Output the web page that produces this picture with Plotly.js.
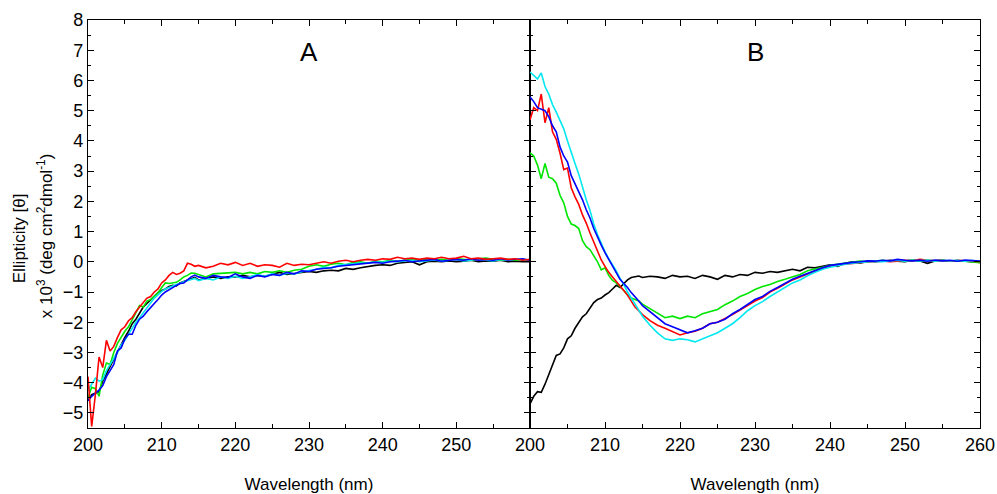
<!DOCTYPE html>
<html>
<head>
<meta charset="utf-8">
<script src="https://cdn.plot.ly/plotly-3.0.1.min.js"></script>
<style>html,body{margin:0;padding:0;background:#fff;}#chart{width:997px;height:494px;}</style>
</head>
<body>
<div id="chart"></div>
<script>
// Wavelength grid (nm): 0.5 nm steps 200-215, then 1 nm steps 216-260
var wavelength = [200,200.5,201,201.5,202,202.5,203,203.5,204,204.5,205,205.5,206,206.5,207,207.5,208,208.5,209,209.5,210,210.5,211,211.5,212,212.5,213,213.5,214,214.5,215,
216,217,218,219,220,221,222,223,224,225,226,227,228,229,230,231,232,233,234,235,236,237,238,239,240,241,242,243,244,245,246,247,248,249,250,251,252,253,254,255,256,257,258,259,260];

// Panel A
var A_black = [-4.6,-4.4,-4.35,-4.3,-3.95,-3.7,-3.45,-3.2,-2.95,-2.75,-2.5,-2.3,-2.05,-1.9,-1.7,-1.5,-1.38,-1.25,-1.12,-1.02,-0.95,-0.9,-0.82,-0.78,-0.8,-0.7,-0.65,-0.6,-0.55,-0.52,-0.6,
-0.55,-0.5,-0.55,-0.5,-0.5,-0.45,-0.5,-0.45,-0.48,-0.42,-0.35,-0.42,-0.38,-0.35,-0.32,-0.35,-0.3,-0.28,-0.3,-0.22,-0.25,-0.2,-0.15,-0.12,-0.1,-0.12,-0.05,-0.02,0.0,-0.1,0.0,0.02,0.0,0.03,0.0,0.02,0.05,0.0,0.03,0.02,0.05,0.0,0.02,0.0,0.0];
var A_red = [-3.8,-5.45,-4.4,-3.15,-3.5,-2.6,-2.95,-2.8,-2.5,-2.25,-2.15,-1.95,-1.85,-1.65,-1.5,-1.35,-1.2,-1.15,-1.0,-0.9,-0.7,-0.6,-0.45,-0.35,-0.42,-0.38,-0.3,-0.05,-0.08,-0.15,-0.12,
-0.2,-0.15,-0.05,-0.1,-0.02,-0.12,-0.05,-0.15,-0.1,-0.12,-0.18,-0.05,-0.12,-0.08,-0.1,-0.05,0.0,-0.05,0.02,0.05,0.0,0.05,0.08,0.05,0.1,0.08,0.15,0.1,0.12,0.08,0.12,0.1,0.15,0.1,0.12,0.18,0.1,0.12,0.08,0.1,0.12,0.08,0.1,0.05,0.08];
var A_blue = [-4.6,-4.45,-4.35,-4.25,-4.1,-3.8,-3.6,-3.4,-2.95,-2.85,-2.55,-2.4,-2.4,-2.1,-1.9,-1.8,-1.65,-1.5,-1.38,-1.25,-1.1,-1.0,-0.92,-0.85,-0.78,-0.72,-0.7,-0.6,-0.5,-0.44,-0.5,
-0.55,-0.45,-0.5,-0.52,-0.4,-0.5,-0.55,-0.45,-0.5,-0.42,-0.45,-0.35,-0.4,-0.3,-0.32,-0.25,-0.22,-0.2,-0.15,-0.12,-0.1,-0.08,-0.05,-0.02,-0.05,0.0,0.02,0.05,0.0,0.03,0.05,0.08,0.02,0.05,0.08,0.05,0.1,0.05,0.08,0.05,0.1,0.06,0.08,0.1,0.05];
var A_green = [-4.5,-4.15,-4.2,-4.45,-3.75,-3.35,-3.4,-3.0,-2.7,-2.5,-2.3,-2.15,-1.9,-1.7,-1.45,-1.5,-1.3,-1.25,-1.15,-1.03,-0.85,-0.7,-0.72,-0.7,-0.68,-0.6,-0.5,-0.45,-0.37,-0.38,-0.42,
-0.5,-0.4,-0.38,-0.35,-0.35,-0.4,-0.35,-0.4,-0.32,-0.35,-0.3,-0.35,-0.28,-0.25,-0.15,-0.1,-0.15,-0.08,-0.05,-0.1,-0.02,0.0,-0.05,0.02,0.0,0.05,0.02,0.05,0.08,0.05,0.1,0.05,0.08,0.05,0.1,0.08,0.05,0.1,0.12,0.08,0.05,0.08,0.05,0.08,0.05];
var A_cyan = [-4.25,-4.05,-3.85,-3.95,-3.9,-3.6,-3.4,-3.2,-3.0,-2.75,-2.6,-2.4,-2.2,-2.0,-1.85,-1.68,-1.52,-1.35,-1.2,-1.1,-0.98,-0.9,-0.86,-0.8,-0.75,-0.72,-0.66,-0.62,-0.58,-0.55,-0.62,
-0.55,-0.6,-0.5,-0.55,-0.48,-0.55,-0.5,-0.42,-0.48,-0.4,-0.45,-0.38,-0.4,-0.33,-0.3,-0.25,-0.18,-0.2,-0.12,-0.1,-0.08,-0.04,-0.05,0.0,-0.02,0.02,0.0,0.03,0.05,0.0,0.03,0.06,0.02,0.05,0.08,0.03,0.05,0.1,0.05,0.03,0.08,0.05,0.1,0.06,0.03];

// Panel B
var B_black = [-4.7,-4.45,-4.3,-4.32,-4.05,-3.75,-3.45,-3.1,-3.05,-2.85,-2.55,-2.45,-2.2,-2.0,-1.82,-1.72,-1.55,-1.35,-1.25,-1.2,-1.1,-1.02,-0.9,-0.78,-0.85,-0.72,-0.6,-0.52,-0.5,-0.47,-0.52,
-0.48,-0.5,-0.55,-0.45,-0.5,-0.48,-0.55,-0.45,-0.5,-0.58,-0.45,-0.5,-0.42,-0.45,-0.35,-0.38,-0.32,-0.35,-0.3,-0.25,-0.3,-0.18,-0.2,-0.15,-0.1,-0.15,-0.05,0.0,-0.05,0.02,0.0,0.02,0.05,0.02,0.0,0.05,0.03,-0.05,0.03,0.05,0.02,0.04,0.02,0.0,-0.02];
var B_red = [4.7,5.1,5.0,5.55,4.6,5.1,4.3,4.05,3.6,3.05,3.1,2.45,2.15,1.9,1.55,1.28,0.95,0.65,0.35,0.06,-0.15,-0.35,-0.5,-0.65,-0.8,-0.95,-1.1,-1.3,-1.5,-1.62,-1.75,
-1.95,-2.1,-2.2,-2.3,-2.42,-2.35,-2.3,-2.2,-2.05,-2.0,-1.88,-1.75,-1.6,-1.45,-1.3,-1.18,-1.0,-0.88,-0.75,-0.6,-0.5,-0.4,-0.32,-0.22,-0.15,-0.1,-0.08,-0.05,-0.02,0.0,0.02,0.03,0.0,0.02,0.05,0.03,0.08,0.05,0.03,0.05,0.02,0.05,0.03,0.02,0.0];
var B_blue = [5.45,5.3,5.1,5.05,5.0,4.8,4.5,4.3,3.8,3.5,3.3,2.85,2.6,2.35,2.05,1.72,1.45,1.1,0.8,0.55,0.3,0.08,-0.15,-0.4,-0.58,-0.72,-0.85,-1.02,-1.15,-1.3,-1.45,
-1.65,-1.85,-2.05,-2.15,-2.25,-2.35,-2.28,-2.2,-2.05,-2.0,-1.9,-1.72,-1.58,-1.42,-1.25,-1.15,-0.98,-0.85,-0.72,-0.58,-0.48,-0.38,-0.28,-0.2,-0.12,-0.08,-0.05,-0.02,0.0,0.03,0.02,0.05,0.03,0.08,0.05,0.03,0.05,0.02,0.06,0.03,0.05,0.02,0.06,0.03,0.02];
var B_green = [3.6,3.5,3.2,2.75,3.25,2.8,2.75,2.6,2.2,1.95,1.5,1.25,1.2,1.1,0.7,0.5,0.4,0.2,0.0,-0.27,-0.2,-0.45,-0.62,-0.7,-0.82,-0.95,-1.1,-1.2,-1.25,-1.3,-1.4,
-1.55,-1.7,-1.85,-1.8,-1.88,-1.8,-1.85,-1.72,-1.65,-1.58,-1.42,-1.3,-1.15,-1.05,-0.92,-0.82,-0.75,-0.65,-0.58,-0.5,-0.42,-0.3,-0.25,-0.18,-0.12,-0.08,-0.05,0.0,0.02,0.0,0.03,0.05,0.02,0.05,0.03,0.06,0.02,0.05,0.03,0.05,0.02,0.04,0.02,0.0,-0.03];
var B_cyan = [6.28,6.15,6.05,6.25,5.8,5.55,5.2,4.95,4.7,4.4,4.0,3.6,3.25,2.9,2.45,2.05,1.7,1.25,0.9,0.6,0.33,0.1,-0.1,-0.3,-0.55,-0.75,-1.0,-1.2,-1.42,-1.62,-1.8,
-2.1,-2.35,-2.55,-2.6,-2.55,-2.58,-2.65,-2.55,-2.45,-2.35,-2.2,-2.05,-1.85,-1.62,-1.45,-1.32,-1.15,-1.0,-0.85,-0.7,-0.6,-0.46,-0.35,-0.25,-0.18,-0.12,-0.08,-0.05,-0.02,0.0,0.02,0.0,0.03,0.05,0.02,0.05,0.03,0.06,0.02,0.05,0.03,0.05,0.02,0.04,0.01];

var xTickValsA = [200,210,220,230,240,250];
var xTickValsB = [200,210,220,230,240,250,260];
var xMinorVals = [205,215,225,235,245,255];

var colors = {black:'#000000', red:'#ff0000', blue:'#0000ff', green:'#00e600', cyan:'#00e8f0'};

function tr(y, c, xa, ya){
  return {x: wavelength, y: y, mode:'lines', line:{color:c, width:1.6}, xaxis:xa, yaxis:ya, hoverinfo:'skip'};
}
var data = [
  tr(A_black, colors.black,'x','y'), tr(A_green, colors.green,'x','y'), tr(A_cyan, colors.cyan,'x','y'),
  tr(A_blue, colors.blue,'x','y'), tr(A_red, colors.red,'x','y'),
  tr(B_black, colors.black,'x2','y2'), tr(B_green, colors.green,'x2','y2'), tr(B_red, colors.red,'x2','y2'),
  tr(B_cyan, colors.cyan,'x2','y2'), tr(B_blue, colors.blue,'x2','y2')
];

var F = '"Liberation Sans", Arial, sans-serif';
var split = 442/892;
function xax(dom, vals, anchor){
  return {domain: dom, range:[200,260], anchor: anchor, tickmode:'array', tickvals: vals,
    ticks:'inside', ticklen:6, tickwidth:1, tickcolor:'#000', showline:true, linecolor:'#000', linewidth:1.2,
    mirror:'ticks', showgrid:false, zeroline:false, tickfont:{family:F, size:18, color:'#000'},
    minor:{tickmode:'array', tickvals: xMinorVals, ticks:'inside', ticklen:4, tickcolor:'#000', showgrid:false},
    title:{text:'Wavelength (nm)', font:{family:F, size:17, color:'#000'}, standoff:24}};
}
function yax(anchor, labels){
  return {domain:[0,1], range:[-5.5,8], anchor: anchor, dtick:1, tick0:0, ticks:'inside', ticklen:6, tickwidth:1,
    tickcolor:'#000', showline:true, linecolor:'#000', linewidth:1.2, mirror:'ticks', showgrid:false, zeroline:false,
    showticklabels: labels, tickfont:{family:F, size:18, color:'#000'},
    minor:{dtick:0.5, tick0:0, ticks:'inside', ticklen:3, tickcolor:'#000', showgrid:false}};
}
var layout = {
  width:997, height:494, margin:{l:88, r:17, t:20, b:66},
  paper_bgcolor:'#fff', plot_bgcolor:'#fff', showlegend:false,
  xaxis: xax([0, split], xTickValsA, 'y'),
  xaxis2: xax([split, 1], xTickValsB, 'y2'),
  yaxis: yax('x', true),
  yaxis2: yax('x2', false),
  annotations:[
    {text:'A', xref:'x', yref:'y', x:230, y:6.95, showarrow:false, font:{family:F, size:26, color:'#000'}},
    {text:'B', xref:'x2', yref:'y2', x:230, y:6.95, showarrow:false, font:{family:F, size:26, color:'#000'}},
    {text:'Ellipticity [θ]', xref:'paper', yref:'paper', x:0, xshift:-69, y:0.465, textangle:-90, showarrow:false,
     xanchor:'center', yanchor:'middle', font:{family:F, size:17, color:'#000'}},
    {text:'x 10<sup>3</sup> (deg cm<sup>2</sup>dmol<sup>-1</sup>)', xref:'paper', yref:'paper', x:0, xshift:-43, y:0.47, textangle:-90, showarrow:false,
     xanchor:'center', yanchor:'middle', font:{family:F, size:17, color:'#000'}}
  ]
};
Plotly.newPlot('chart', data, layout, {staticPlot:true, displayModeBar:false});
</script>
</body>
</html>
